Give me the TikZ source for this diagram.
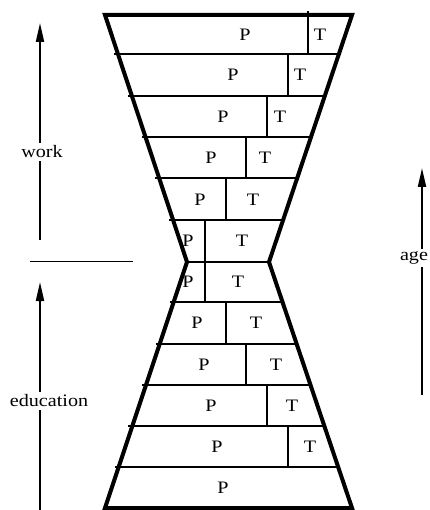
\documentclass[tikz,border=0pt]{standalone}
\usepackage{fontspec}
\setmainfont[FakeStretch=1.15]{Liberation Serif}
\usetikzlibrary{arrows.meta}

\begin{document}
\begin{tikzpicture}[
    x=1pt, y=-1pt,
    >={Triangle[length=19pt,width=8pt]},
    outline/.style={draw, line width=4pt, line join=miter},
    row/.style={draw, line width=2pt},
    divider/.style={draw, line width=2pt},
    axis/.style={draw, line width=2pt, ->},
    separator/.style={draw, line width=1pt},
    cell/.style={inner sep=0pt, font=\fontsize{17.5}{21}\selectfont},
    lbl/.style={fill=white, inner sep=3pt, font=\fontsize{17.5}{21}\selectfont}
  ]
  \useasboundingbox (0,0) rectangle (429,510);

  % --- 1. HOURGLASS CORNERS ---
  \coordinate (tl) at (105,15);
  \coordinate (tr) at (352,15);
  \coordinate (wr) at (269,262);
  \coordinate (br) at (352,508);
  \coordinate (bl) at (105,508);
  \coordinate (wl) at (187,262);

  % --- 2. ROWS ---
  % upper half
  \foreach \y in {54,96,137,178.5,220} {
    \draw[row] ({105+(\y-15)/247*82-4},\y) -- ({352-(\y-15)/247*83},\y);
  }
  \draw[row] (wl) -- (wr);
  % lower half
  \foreach \y in {302,344,385,426,467} {
    \draw[row] ({187-(\y-262)/246*82-4},\y) -- ({269+(\y-262)/246*83},\y);
  }

  % dividers between P and T
  \foreach \x/\ya/\yb in {308/11/54, 288/54/96, 267/96/137, 246/137/178.5,
                          226/178.5/220, 205/220/302, 226/302/344,
                          246/344/385, 267/385/426, 288/426/467} {
    \draw[divider] (\x,\ya) -- (\x,\yb);
  }

  \draw[outline] (tl) -- (tr) -- (wr) -- (br) -- (bl) -- (wl) -- cycle;

  % --- 3. CELL LABELS ---
  \foreach \n/\x/\y in {1/245/34.5, 2/233/75, 3/223/116.5, 4/211/157.8,
                        5/200/199.3, 6/188/241, 7/188/282, 8/197/323,
                        9/204/364.5, 10/211/405.5, 11/217/446.5, 12/223/487.5} {
    \node[cell] (p\n) at (\x,\y) {P};
  }
  \foreach \n/\x/\y in {1/320/34.5, 2/300/75, 3/280/116.5, 4/265/157.8,
                        5/253/199.3, 6/242/241, 7/238/282, 8/256/323,
                        9/276/364.5, 10/292/405.5, 11/310/446.5} {
    \node[cell] (t\n) at (\x,\y) {T};
  }

  % --- 4. AXES ---
  \coordinate (workfoot) at (40,240);
  \coordinate (workhead) at (40,23);
  \draw[axis] (workfoot) -- (workhead);
  \node[lbl] (work) at (42,152) {work};

  \coordinate (sepl) at (30,261);
  \coordinate (sepr) at (133,261);
  \draw[separator] (sepl) -- (sepr);

  \coordinate (edufoot) at (40,512);
  \coordinate (eduhead) at (40,282);
  \draw[axis] (edufoot) -- (eduhead);
  \node[lbl] (education) at (49,401) {education};

  \coordinate (agefoot) at (422,395);
  \coordinate (agehead) at (422,168);
  \draw[axis] (agefoot) -- (agehead);
  \node[lbl, inner xsep=1pt] (age) at (414,258) {age};

\end{tikzpicture}
\end{document}
